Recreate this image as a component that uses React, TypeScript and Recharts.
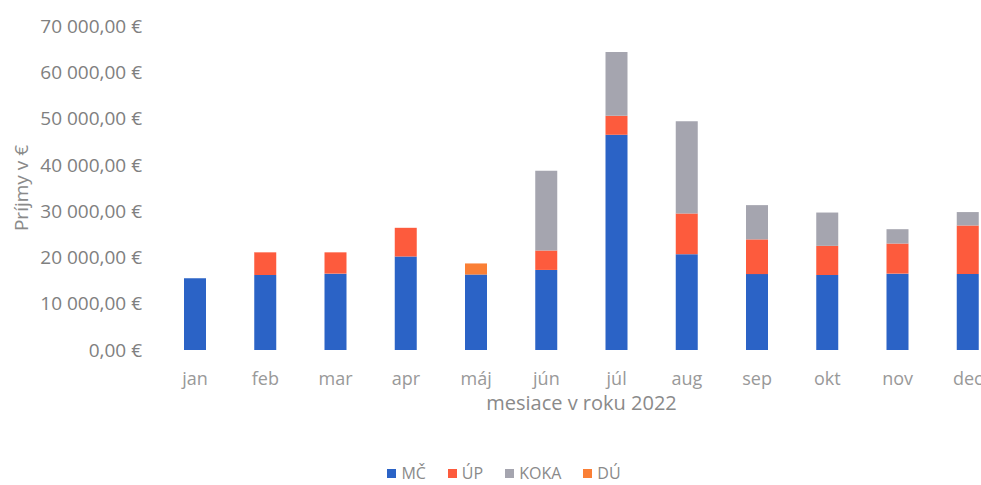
import { BarChart, Bar, XAxis, YAxis, Legend } from "recharts";

const months = ["jan", "feb", "mar", "apr", "máj", "jún", "júl", "aug", "sep", "okt", "nov", "dec"];
const mc = [15500, 16200, 16500, 20200, 16300, 17300, 46500, 20700, 16400, 16200, 16500, 16400];
const up = [0, 4900, 4600, 6200, 0, 4200, 4100, 8800, 7500, 6300, 6500, 10500];
const koka = [0, 0, 0, 0, 0, 17200, 13800, 19900, 7400, 7200, 3100, 2900];
const du = [0, 0, 0, 0, 2400, 0, 0, 0, 0, 0, 0, 0];
const yTicks = [0, 10000, 20000, 30000, 40000, 50000, 60000, 70000];

const series = [
  { key: "MČ", color: "#2B63C6" },
  { key: "ÚP", color: "#FD5B3D" },
  { key: "KOKA", color: "#A5A5AF" },
  { key: "DÚ", color: "#FA7F35" },
];

const data = months.map((m, i) => ({
  month: m,
  "MČ": mc[i],
  "ÚP": up[i],
  KOKA: koka[i],
  "DÚ": du[i],
}));

const FONT = "'Open Sans', sans-serif";

// 70000 -> "70 000,00 €"
function euro(v: number) {
  const whole = Math.round(v).toString().replace(/\B(?=(\d{3})+(?!\d))/g, " ");
  return `${whole},00 €`;
}

function YTitle(props: any) {
  const { viewBox } = props;
  const cy = viewBox.y + viewBox.height / 2;
  return (
    <text
      x={21}
      y={cy}
      transform={`rotate(-90, 21, ${cy})`}
      textAnchor="middle"
      dominantBaseline="central"
      fill="#8a8a8a"
      fontSize={19}
      fontFamily={FONT}
    >
      Príjmy v €
    </text>
  );
}

function LegendRow() {
  return (
    <div
      style={{
        display: "flex",
        justifyContent: "center",
        alignItems: "center",
        fontFamily: FONT,
        fontSize: 16,
        color: "#8a8a8a",
      }}
    >
      {series.map((s) => (
        <div key={s.key} style={{ display: "flex", alignItems: "center", margin: "0 11px" }}>
          <span style={{ width: 9, height: 9, background: s.color, marginRight: 5, display: "inline-block" }} />
          <span>{s.key}</span>
        </div>
      ))}
    </div>
  );
}

export default function App() {
  return (
    <div style={{ position: "absolute", left: 0, top: 0, width: 981, height: 485, overflow: "hidden", background: "#fff" }}>
      <BarChart width={1008} height={485} data={data} margin={{ top: 26, right: 5, left: 0, bottom: 75 }}>
        <XAxis
          dataKey="month"
          axisLine={false}
          tickLine={false}
          tickSize={0}
          tickMargin={22}
          height={60}
          interval={0}
          tick={{ fill: "#999", fontSize: 18, fontFamily: FONT }}
          label={{
            value: "mesiace v roku 2022",
            position: "insideBottom",
            offset: 0,
            fill: "#8a8a8a",
            fontSize: 20,
            fontFamily: FONT,
          }}
        />
        <YAxis
          domain={[0, 70000]}
          ticks={yTicks}
          axisLine={false}
          tickLine={false}
          tickSize={0}
          tickMargin={18}
          width={160}
          tickFormatter={euro}
          tick={{ fill: "#808080", fontSize: 19, fontFamily: FONT }}
          label={<YTitle />}
        />
        <Legend
          verticalAlign="middle"
          content={() => <LegendRow />}
          wrapperStyle={{ top: 462, left: 0, width: 1008, height: 22 }}
        />
        {series.map((s) => (
          <Bar key={s.key} dataKey={s.key} stackId="a" fill={s.color} barSize={22} isAnimationActive={false} />
        ))}
      </BarChart>
    </div>
  );
}
